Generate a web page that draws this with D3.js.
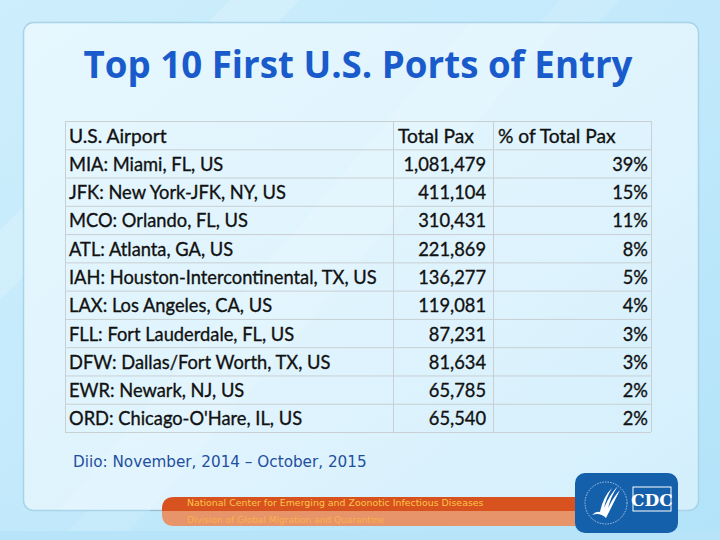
<!DOCTYPE html>
<html><head><meta charset="utf-8">
<script src="https://cdnjs.cloudflare.com/ajax/libs/d3/7.8.5/d3.min.js"></script>
<style>
html,body{margin:0;padding:0;background:#c6ebfb;}
svg{display:block;}
</style></head>
<body>
<svg id="c" width="720" height="540"></svg>
<script>
// ---- data ----
const title = "Top 10 First U.S. Ports of Entry";
const headers = ["U.S. Airport", "Total Pax", "% of Total Pax"];
const airports = [
  "MIA: Miami, FL, US",
  "JFK: New York-JFK, NY, US",
  "MCO: Orlando, FL, US",
  "ATL: Atlanta, GA, US",
  "IAH: Houston-Intercontinental, TX, US",
  "LAX: Los Angeles, CA, US",
  "FLL: Fort Lauderdale, FL, US",
  "DFW: Dallas/Fort Worth, TX, US",
  "EWR: Newark, NJ, US",
  "ORD: Chicago-O'Hare, IL, US"
];
const totalPax = [1081479, 411104, 310431, 221869, 136277, 119081, 87231, 81634, 65785, 65540];
const pctPax = [39, 15, 11, 8, 5, 4, 3, 3, 2, 2];
const sourceNote = "Diio: November, 2014 \u2013 October, 2015";
const footerLines = ["National Center for Emerging and Zoonotic Infectious Diseases", "Division of Global Migration and Quarantine"];

const svg = d3.select("#c");
const defs = svg.append("defs");

// background gradient
const bg = defs.append("linearGradient").attr("id","bg").attr("x1","0").attr("y1","0").attr("x2","1").attr("y2","1");
bg.append("stop").attr("offset","0").attr("stop-color","#cdeefc");
bg.append("stop").attr("offset","0.5").attr("stop-color","#c2e9fb");
bg.append("stop").attr("offset","1").attr("stop-color","#b2e3f9");
svg.append("rect").attr("width",720).attr("height",540).attr("fill","url(#bg)");
// diagonal light streaks
svg.append("path").attr("d","M230,0 L300,0 L0,300 L0,230 Z").attr("fill","#ffffff").attr("opacity",0.18);
svg.append("path").attr("d","M560,0 L620,0 L120,540 L60,540 Z").attr("fill","#ffffff").attr("opacity",0.12);
svg.append("rect").attr("x",0).attr("y",531).attr("width",720).attr("height",9).attr("fill","#b7e4f8");

// panel
const pg = defs.append("linearGradient").attr("id","pg").attr("x1","0").attr("y1","0").attr("x2","1").attr("y2","1");
pg.append("stop").attr("offset","0").attr("stop-color","#e6f7fe");
pg.append("stop").attr("offset","0.6").attr("stop-color","#def3fd");
pg.append("stop").attr("offset","1").attr("stop-color","#d3effc");
svg.append("rect").attr("x",23.5).attr("y",22.5).attr("width",675).attr("height",488).attr("rx",10)
  .attr("fill","url(#pg)").attr("stroke","#a9d3e8").attr("stroke-width",1.5);
svg.append("path").attr("d","M470,23 L560,23 L150,510 L60,510 Z").attr("fill","#ffffff").attr("opacity",0.12);

function fit(sel, w){
  const n = sel.node(); const fs = parseFloat(sel.attr("font-size"));
  const L = n.getComputedTextLength(); sel.attr("font-size", fs*w/L);
}

// title
const t = svg.append("text").attr("x",358).attr("y",78).attr("text-anchor","middle")
  .attr("font-family","'Open Sans', 'DejaVu Sans', sans-serif").attr("font-weight","bold")
  .attr("font-size",36).attr("fill","#1a5bcc").text(title);
fit(t, 549);

// table
const x0 = 65, x1 = 393, x2 = 493, x3 = 651;
const rows = ["__header__"].concat(airports);
const y = d3.scaleBand().domain(d3.range(rows.length)).range([121, 432]);
const tg = svg.append("g");
const font = "Lato, 'Open Sans', sans-serif";
const fs = 20;
const sx = 0.915;
const fmt = d3.format(",");

// grid lines
tg.selectAll("line.h").data(d3.range(rows.length+1)).join("line")
  .attr("x1",x0).attr("x2",x3)
  .attr("y1",i=> i<rows.length ? y(i)+0.5 : y(rows.length-1)+y.bandwidth()+0.5)
  .attr("y2",i=> i<rows.length ? y(i)+0.5 : y(rows.length-1)+y.bandwidth()+0.5)
  .attr("stroke","#c9cfd3").attr("stroke-width",1);
tg.selectAll("line.v").data([x0,x1,x2,x3]).join("line")
  .attr("x1",d=>d+0.5).attr("x2",d=>d+0.5).attr("y1",121).attr("y2",432)
  .attr("stroke","#c9cfd3").attr("stroke-width",1);

const by = i => y(i) + y.bandwidth()*0.5 + 7.5;
function cell(x, yy, txt, anchor, s){
  tg.append("text").attr("transform",`translate(${x},${yy}) scale(${s||sx},1)`)
    .attr("text-anchor",anchor||"start")
    .attr("font-family",font).attr("font-size",fs).attr("fill","#111")
    .attr("stroke","#111").attr("stroke-width",0.35).text(txt);
}
headers.forEach((h,i)=>cell([x0+4,x1+5,x2+5][i], by(0), h, "start", 0.96));
airports.forEach((a,i)=>{
  cell(x0+4, by(i+1), a);
  cell(x2-7, by(i+1), fmt(totalPax[i]), "end");
  cell(x3-3, by(i+1), pctPax[i]+"%", "end");
});

// source note
const sn = svg.append("text").attr("x",73).attr("y",467)
  .attr("font-family","'DejaVu Sans', Verdana, sans-serif").attr("font-size",15)
  .attr("fill","#1f4f9e").text(sourceNote);
fit(sn, 294);

// footer bar
svg.append("line").attr("x1",150).attr("x2",165).attr("y1",510.5).attr("y2",510.5).attr("stroke","#9fb8c4");
svg.append("path").attr("d","M174,497 L590,497 L590,511 L162,511 L162,509 Q162,497 174,497 Z").attr("fill","#d8521f");
svg.append("path").attr("d","M162,511 L590,511 L590,526 L174,526 Q162,526 162,514 Z").attr("fill","#e8946a");
const f1 = svg.append("text").attr("x",187).attr("y",506).attr("font-family","'DejaVu Sans', sans-serif")
  .attr("font-size",10).attr("fill","#f9c64a").text(footerLines[0]);
fit(f1, 297);
const f2 = svg.append("text").attr("x",187).attr("y",523).attr("font-family","'DejaVu Sans', sans-serif")
  .attr("font-size",10).attr("fill","#f8b24c").text(footerLines[1]);
fit(f2, 198);

// CDC logo
const lg = svg.append("g");
lg.append("rect").attr("x",575).attr("y",473).attr("width",103).attr("height",60).attr("rx",10).attr("fill","#1560ab");
lg.append("circle").attr("cx",606).attr("cy",503).attr("r",21).attr("fill","none").attr("stroke","#ffffff").attr("stroke-width",0.8).attr("stroke-dasharray","1.5,1.2").attr("opacity",0.8);
lg.append("path").attr("d","M592,515 Q600,512 606,518 Q612,506 620,490 Q614,496 608,508 Q611,496 618,486 Q610,494 604,508 Q606,498 612,488 Q603,497 600,512 Q596,511 592,515 Z")
  .attr("fill","#ffffff");
lg.append("rect").attr("x",633).attr("y",487).attr("width",38).attr("height",24).attr("fill","none").attr("stroke","#ffffff").attr("stroke-width",1);
lg.append("text").attr("x",652).attr("y",506).attr("text-anchor","middle").attr("font-family","'DejaVu Serif', serif")
  .attr("font-weight","bold").attr("font-size",17).attr("fill","#ffffff").text("CDC");
</script>
</body></html>
